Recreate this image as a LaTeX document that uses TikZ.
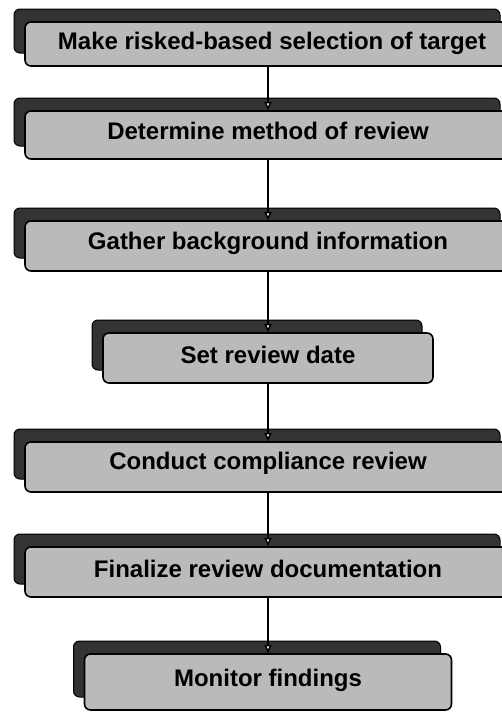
\documentclass[tikz,border=0pt]{standalone}
\usepackage{fontspec}
\setmainfont{Liberation Sans}
\usetikzlibrary{arrows.meta}
\begin{document}
\begin{tikzpicture}[x=1pt,y=-1pt,
  shadowbox/.style={draw=black, line width=1pt, fill=black!80, rounded corners=6pt,
    inner sep=0pt, outer sep=0pt},
  frontbox/.style={draw=black, line width=1.6pt, fill=black!27, rounded corners=6pt,
    inner sep=0pt, outer sep=0pt},
  steptext/.style={font=\fontsize{24}{26}\selectfont\bfseries, text=black, inner sep=0pt},
  conn/.style={draw=black, line width=1.4pt, -{Latex[length=9pt,width=8pt,fill=white]}}
]
\useasboundingbox (0,0) rectangle (502,715);
\clip (0,0) rectangle (502,715);
\fill[white] (0,0) rectangle (502,715);

% shadows
\node[shadowbox, minimum width=486pt, minimum height=44pt] (s1) at (257,31) {};
\node[shadowbox, minimum width=486pt, minimum height=48pt] (s2) at (257,122) {};
\node[shadowbox, minimum width=486pt, minimum height=50pt] (s3) at (257,233) {};
\node[shadowbox, minimum width=330pt, minimum height=50pt] (s4) at (257,345) {};
\node[shadowbox, minimum width=486pt, minimum height=50pt] (s5) at (257,454) {};
\node[shadowbox, minimum width=486pt, minimum height=50pt] (s6) at (257,559) {};
\node[shadowbox, minimum width=367pt, minimum height=56pt] (s7) at (257,669) {};

% front boxes
\node[frontbox, minimum width=486pt, minimum height=44pt] (b1) at (268,44) {};
\node[frontbox, minimum width=486pt, minimum height=48pt] (b2) at (268,135) {};
\node[frontbox, minimum width=486pt, minimum height=50pt] (b3) at (268,246) {};
\node[frontbox, minimum width=330pt, minimum height=50pt] (b4) at (268,358) {};
\node[frontbox, minimum width=486pt, minimum height=50pt] (b5) at (268,467) {};
\node[frontbox, minimum width=486pt, minimum height=50pt] (b6) at (268,572) {};
\node[frontbox, minimum width=367pt, minimum height=56pt] (b7) at (268,682) {};

% texts
\node[steptext] (t1) at (272,43) {Make risked-based selection of target};
\node[steptext] (t2) at (268,131) {Determine method of review};
\node[steptext] (t3) at (268,243) {Gather background information};
\node[steptext] (t4) at (268,355) {Set review date};
\node[steptext] (t5) at (268,463) {Conduct compliance review};
\node[steptext] (t6) at (268,569) {Finalize review documentation};
\node[steptext] (t7) at (268,680) {Monitor findings};

% connectors
\draw[conn] (b1.south) -- (b2.north);
\draw[conn] (b2.south) -- (b3.north);
\draw[conn] (b3.south) -- (b4.north);
\draw[conn] (b4.south) -- (b5.north);
\draw[conn] (b5.south) -- (b6.north);
\draw[conn] (b6.south) -- (b7.north);
\end{tikzpicture}
\end{document}
